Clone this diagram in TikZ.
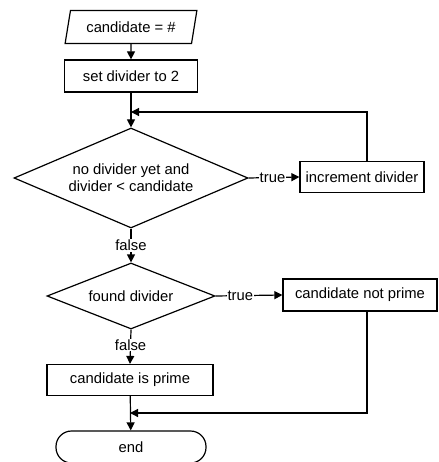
\documentclass[tikz,border=0pt]{standalone}
\usepackage{fontspec}
\setmainfont{Liberation Sans}
\usetikzlibrary{shapes.geometric,arrows.meta}
\begin{document}
\begin{tikzpicture}[x=1pt,y=-1pt,line width=1.2pt,
    font=\fontsize{14.8}{17}\selectfont,
    >={Triangle[length=8pt,width=8pt]},
    box/.style={draw,rectangle,inner sep=0pt,minimum height=31pt},
    test/.style={draw,diamond,inner sep=0pt,align=center},
    io/.style={draw,trapezium,trapezium left angle=70,trapezium right angle=110,
        trapezium stretches=true,inner sep=0pt,minimum width=133pt,minimum height=33pt},
    stop/.style={draw,rectangle,rounded corners=15.5pt,minimum width=150pt,minimum height=32pt},
    lbl/.style={fill=white,inner sep=1pt}]
    \useasboundingbox (0,0) rectangle (438,462);
    % nodes of the flow chart
    \node[io] (in) at (131,27) {candidate = \#};
    \node[box,minimum width=133pt,minimum height=32pt] (set) at (131,76) {set divider to 2};
    \node[test,aspect=2.34,minimum width=234pt,minimum height=100pt] (loop) at (131,178) {no divider yet and\\divider < candidate};
    \node[box,minimum width=124pt] (inc) at (362,177) {increment divider};
    \node[test,aspect=2.55,minimum width=168pt,minimum height=66pt] (found) at (131,296) {found divider};
    \node[box,minimum width=154pt,minimum height=32pt] (notp) at (360,295) {candidate not prime};
    \node[box,minimum width=166pt] (isp) at (130,380) {candidate is prime};
    \node[stop] (end) at (131,447) {end};
    \coordinate (back) at (367,112);
    \coordinate (join) at (367,413);
    % connectors
    \foreach \a/\b in {in/set,set/loop,isp/end} \draw[->] (\a)--(\b);
    \draw[->] (loop.south)--node[lbl]{false}(found.north);
    \draw[->] (found.south)--node[lbl,pos=0.45]{false}(isp.north);
    \draw[->] (loop.east)--node[lbl,pos=0.47]{true}(inc.west);
    \draw[->] (found.east)--node[lbl,pos=0.37]{true}(notp.west);
    \draw[->] (inc.north -| back)--(back)--(back -| set.south);
    \draw[->] (notp.south -| join)--(join)--(join -| isp.south);
\end{tikzpicture}
\end{document}
